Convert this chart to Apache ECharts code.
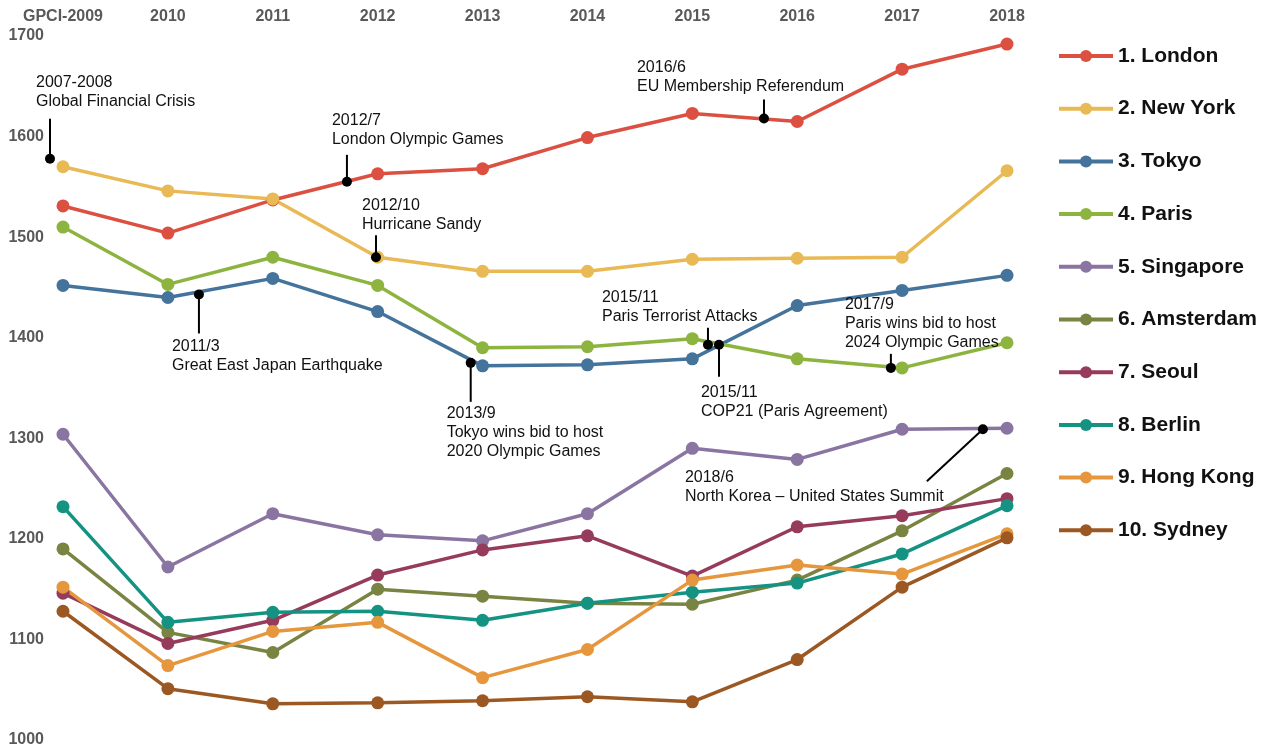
<!DOCTYPE html>
<html>
<head>
<meta charset="utf-8">
<script src="https://cdn.jsdelivr.net/npm/echarts@6/dist/echarts.min.js"></script>
<style>
html,body{margin:0;padding:0;background:#fff;}
#chart{width:1266px;height:749px;}
</style>
</head>
<body>
<div id="chart"></div>
<script>
// ---- data ----
const categories = ['GPCI-2009','2010','2011','2012','2013','2014','2015','2016','2017','2018'];
const yTicks = [1000,1100,1200,1300,1400,1500,1600,1700];

const london    = [1531,1504,1537,1563,1568,1599,1623,1615,1667,1692];
const newYork   = [1570,1546,1538,1480,1466,1466,1478,1479,1480,1566];
const tokyo     = [1452,1440,1459,1426,1372,1373,1379,1432,1447,1462];
const paris     = [1510,1453,1480,1452,1390,1391,1399,1379,1370,1395];
const singapore = [1304,1172,1225,1204,1198,1225,1290,1279,1309,1310];
const amsterdam = [1190,1107,1087,1150,1143,1136,1135,1159,1208,1265];
const seoul     = [1146,1096,1119,1164,1189,1203,1163,1212,1223,1240];
const berlin    = [1232,1117,1127,1128,1119,1136,1147,1156,1185,1233];
const hongKong  = [1152,1074,1108,1117,1062,1090,1159,1174,1165,1205];
const sydney    = [1128,1051,1036,1037,1039,1043,1038,1080,1152,1201];

const cityNames = ['1. London','2. New York','3. Tokyo','4. Paris','5. Singapore','6. Amsterdam','7. Seoul','8. Berlin','9. Hong Kong','10. Sydney'];
const cityValues = [london,newYork,tokyo,paris,singapore,amsterdam,seoul,berlin,hongKong,sydney];

// events: position along the year axis (index units) and score level
const eventLabels = [
  '2007-2008\nGlobal Financial Crisis',
  '2012/7\nLondon Olympic Games',
  '2012/10\nHurricane Sandy',
  '2011/3\nGreat East Japan Earthquake',
  '2013/9\nTokyo wins bid to host\n2020 Olympic Games',
  '2015/11\nParis Terrorist Attacks',
  '2015/11\nCOP21 (Paris Agreement)',
  '2016/6\nEU Membership Referendum',
  '2017/9\nParis wins bid to host\n2024 Olympic Games',
  '2018/6\nNorth Korea \u2013 United States Summit'
];
const eventX = [-0.124, 2.707, 2.984, 1.296, 3.887, 6.149, 6.254, 6.683, 7.893, 8.770];
const eventY = [1578, 1555, 1480, 1443, 1375, 1393, 1393, 1618, 1370, 1309];

// ---- styling / layout ----
const colors = ['#db5041','#e8b955','#44739c','#8cb43f','#8a74a2','#798443','#963b5c','#149383','#e6963c','#9c5822'];
// leader line end offset [dx,dy], text left offset, first-line-centre offset
const eventLayout = [
  {lx:0, ly:-40, tx:-14, ty:-76},
  {lx:0, ly:-27, tx:-15, ty:-61},
  {lx:0, ly:-22, tx:-14, ty:-52},
  {lx:0, ly:39,  tx:-27, ty:52},
  {lx:0, ly:39,  tx:-24, ty:51},
  {lx:0, ly:-17, tx:-106, ty:-47},
  {lx:0, ly:32,  tx:-18, ty:48},
  {lx:0, ly:-19, tx:-127, ty:-51},
  {lx:0, ly:-14, tx:-46, ty:-63},
  {lx:-56, ly:52, tx:-298, ty:48}
];
const FONT = "'Liberation Sans', Arial, sans-serif";
const LH = 19;

const chart = echarts.init(document.getElementById('chart'));

const series = cityNames.map((name, i) => ({
  name: name,
  type: 'line',
  data: cityValues[i].map((v, j) => [j, v]),
  symbol: 'circle',
  symbolSize: 13,
  showSymbol: true,
  color: colors[i],
  lineStyle: {width: 3.5, color: colors[i]},
  itemStyle: {color: colors[i]},
  emphasis: {disabled: true},
  z: 2
}));

series.push({
  type: 'custom',
  name: 'events',
  clip: false,
  z: 10,
  data: eventX.map((x, i) => [x, eventY[i], i]),
  encode: {x: 0, y: 1},
  renderItem: function (params, api) {
    const i = api.value(2);
    const p = api.coord([api.value(0), api.value(1)]);
    const L = eventLayout[i];
    return {
      type: 'group',
      children: [
        {type: 'line', shape: {x1: p[0], y1: p[1], x2: p[0] + L.lx, y2: p[1] + L.ly},
         style: {stroke: '#000', lineWidth: 2}},
        {type: 'circle', shape: {cx: p[0], cy: p[1], r: 5}, style: {fill: '#000'}},
        {type: 'text', x: p[0] + L.tx, y: p[1] + L.ty - LH / 2,
         style: {text: eventLabels[i], fill: '#111', font: '16px ' + FONT,
                 lineHeight: LH, verticalAlign: 'top', align: 'left'}}
      ]
    };
  }
});

chart.setOption({
  animation: false,
  backgroundColor: '#fff',
  grid: {left: 63, right: 259, top: 36, bottom: 9, containLabel: false},
  xAxis: {
    type: 'value', position: 'top', min: 0, max: categories.length - 1, interval: 1,
    axisLine: {show: false}, axisTick: {show: false}, splitLine: {show: false},
    axisLabel: {
      formatter: v => categories[v] || '',
      color: '#595959', fontWeight: 'bold', fontSize: 16, fontFamily: FONT, margin: 11
    }
  },
  yAxis: {
    type: 'value', min: yTicks[0], max: yTicks[yTicks.length - 1], interval: 100,
    axisLine: {show: false}, axisTick: {show: false}, splitLine: {show: false},
    axisLabel: {formatter: v => String(v), color: '#595959', fontWeight: 'bold', fontSize: 16, fontFamily: FONT, margin: 19}
  },
  legend: {
    data: cityNames,
    orient: 'vertical', left: 1057, top: 44, padding: 0,
    itemWidth: 54, itemHeight: 15, itemGap: 28.7,
    lineStyle: {width: 4},
    textStyle: {color: '#111', fontWeight: 'bold', fontSize: 21, fontFamily: FONT, lineHeight: 24},
    selectedMode: false
  },
  series: series
});
</script>
</body>
</html>
